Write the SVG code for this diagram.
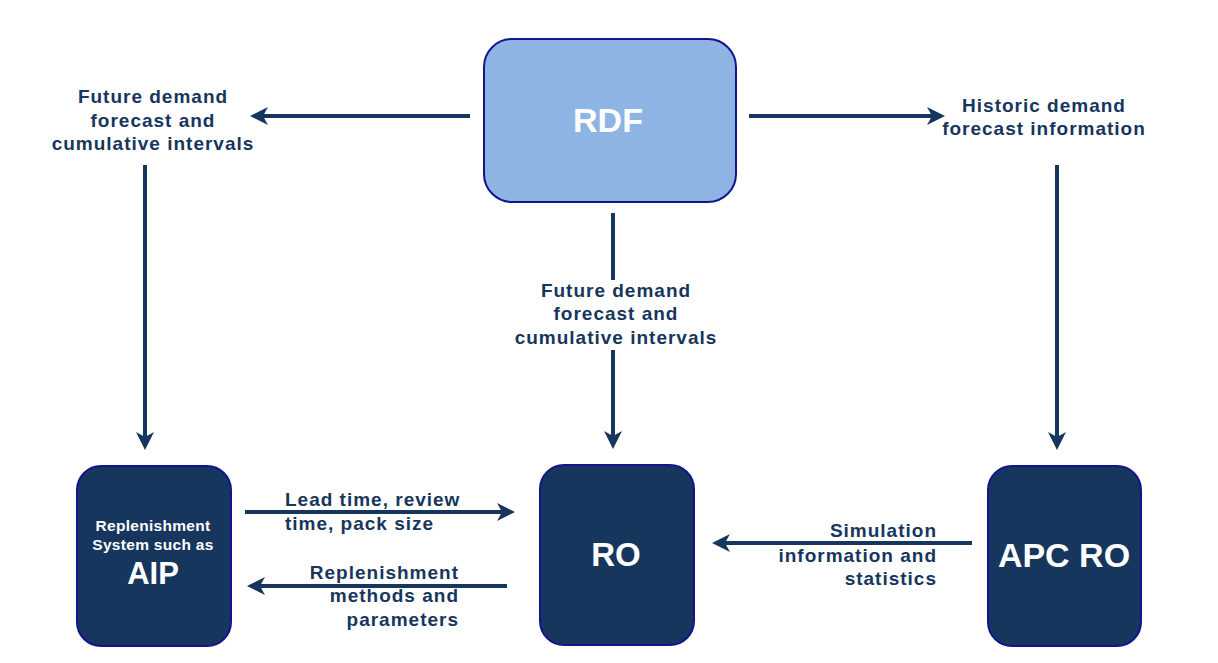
<svg xmlns="http://www.w3.org/2000/svg" width="1218" height="663" viewBox="0 0 1218 663">
<style>
.box{stroke:#14148C;stroke-width:2}
.light{fill:#8EB4E3}
.dark{fill:#17365D}
.big{font-family:"Liberation Sans",Arial,sans-serif;font-weight:bold;fill:#FFFFFF;text-anchor:middle}
.lbl{font-family:"Liberation Sans",Arial,sans-serif;font-weight:bold;font-size:19px;letter-spacing:1px;fill:#17365D}
.c{text-anchor:middle}
.e{text-anchor:end}
.conn{stroke:#17365D;stroke-width:4;fill:none;marker-end:url(#ah)}
.seg{stroke:#17365D;stroke-width:4;fill:none}
</style>
<defs>
<marker id="ah" markerUnits="userSpaceOnUse" viewBox="-12 -10 22 20" markerWidth="22" markerHeight="20" refX="0" refY="0" orient="auto" overflow="visible">
<path d="M-10,-9 L8,0 L-10,9 L-5,0 Z" fill="#17365D"/>
</marker>
</defs>
<rect width="1218" height="663" fill="#FFFFFF"/>
<g id="connectors">
<line class="conn" x1="470" y1="116" x2="258" y2="116"/>
<line class="conn" x1="749" y1="116" x2="937" y2="116"/>
<line class="conn" x1="145" y1="165" x2="145" y2="442"/>
<line class="seg" x1="613" y1="213" x2="613" y2="280"/>
<line class="conn" x1="613" y1="350" x2="613" y2="441"/>
<line class="conn" x1="1057" y1="165" x2="1057" y2="442"/>
<line class="conn" x1="245" y1="512" x2="507" y2="512"/>
<line class="conn" x1="507" y1="586" x2="255" y2="586"/>
<line class="conn" x1="972" y1="543" x2="720" y2="543"/>
</g>
<g id="node-rdf">
<rect class="box light" x="484" y="39" width="252" height="163" rx="28"/>
<text class="big" x="608" y="132" font-size="34">RDF</text>
</g>
<g id="node-aip">
<rect class="box dark" x="77" y="466" width="154" height="180" rx="24"/>
<text class="big" x="153" y="531" font-size="15.5" letter-spacing="0.3">Replenishment</text>
<text class="big" x="153" y="550" font-size="15.5" letter-spacing="0.3">System such as</text>
<text class="big" x="153" y="584" font-size="31">AIP</text>
</g>
<g id="node-ro">
<rect class="box dark" x="540" y="465" width="154" height="180" rx="24"/>
<text class="big" x="616" y="566" font-size="33">RO</text>
</g>
<g id="node-apcro">
<rect class="box dark" x="988" y="466" width="153" height="180" rx="24"/>
<text class="big" x="1064" y="567" font-size="34">APC RO</text>
</g>
<g id="labels">
<text class="lbl c" x="153" y="103">Future demand</text>
<text class="lbl c" x="153" y="127">forecast and</text>
<text class="lbl c" x="153" y="150">cumulative intervals</text>
<text class="lbl c" x="1044" y="112">Historic demand</text>
<text class="lbl c" x="1044" y="135">forecast information</text>
<text class="lbl c" x="616" y="297">Future demand</text>
<text class="lbl c" x="616" y="320">forecast and</text>
<text class="lbl c" x="616" y="344">cumulative intervals</text>
<text class="lbl" x="285" y="506">Lead time, review</text>
<text class="lbl" x="285" y="530">time, pack size</text>
<text class="lbl e" x="459" y="579">Replenishment</text>
<text class="lbl e" x="459" y="602">methods and</text>
<text class="lbl e" x="459" y="626">parameters</text>
<text class="lbl e" x="937" y="537">Simulation</text>
<text class="lbl e" x="937" y="562">information and</text>
<text class="lbl e" x="937" y="585">statistics</text>
</g>
</svg>
